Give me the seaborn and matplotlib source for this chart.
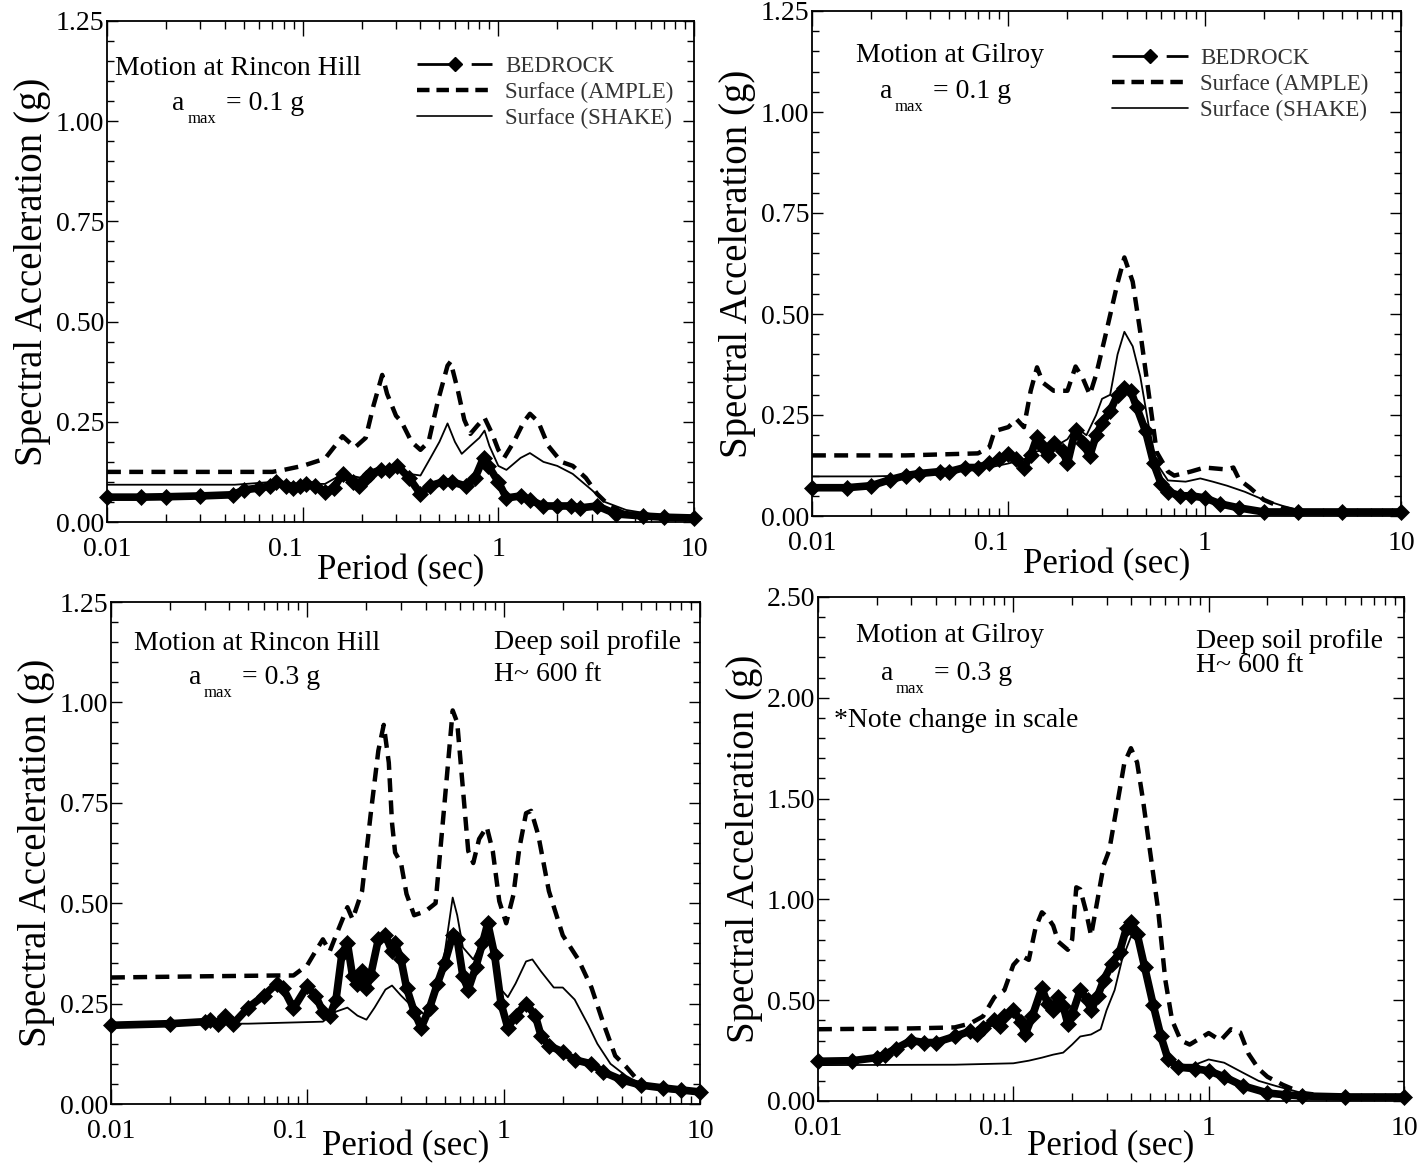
import numpy as np
import seaborn as sns
import matplotlib
matplotlib.use('Agg')
import matplotlib.pyplot as plt
from matplotlib.lines import Line2D
from matplotlib.ticker import LogLocator, MultipleLocator, NullFormatter, FormatStrFormatter

# ---- Rincon Hill, amax = 0.1 g
rh1_bed_x = [0.01, 0.015, 0.02, 0.03, 0.044, 0.05, 0.06, 0.068, 0.073, 0.082, 0.089, 0.097, 0.104, 0.116, 0.13, 0.144, 0.16, 0.18, 0.194, 0.21, 0.22, 0.25, 0.275, 0.305, 0.35, 0.40, 0.445, 0.52, 0.58, 0.68, 0.76, 0.84, 0.89, 1.0, 1.1, 1.3, 1.45, 1.7, 2.0, 2.35, 2.6, 3.2, 4.0, 5.5, 7.0, 10]
rh1_bed_y = [0.062, 0.062, 0.063, 0.065, 0.068, 0.08, 0.085, 0.09, 0.10, 0.09, 0.085, 0.09, 0.095, 0.09, 0.075, 0.085, 0.12, 0.10, 0.09, 0.11, 0.12, 0.13, 0.13, 0.14, 0.11, 0.07, 0.09, 0.10, 0.10, 0.09, 0.11, 0.16, 0.14, 0.10, 0.06, 0.065, 0.055, 0.04, 0.04, 0.04, 0.035, 0.04, 0.02, 0.015, 0.012, 0.01]
rh1_amp_x = [0.01, 0.03, 0.07, 0.08, 0.1, 0.13, 0.16, 0.185, 0.21, 0.23, 0.255, 0.27, 0.30, 0.32, 0.36, 0.40, 0.44, 0.49, 0.55, 0.57, 0.62, 0.67, 0.72, 0.78, 0.85, 0.93, 1.0, 1.07, 1.2, 1.35, 1.45, 1.6, 1.8, 2.1, 2.4, 2.8, 3.2, 3.7, 4.5, 6.0, 10]
rh1_amp_y = [0.125, 0.125, 0.125, 0.13, 0.14, 0.158, 0.214, 0.186, 0.21, 0.29, 0.367, 0.32, 0.265, 0.25, 0.20, 0.18, 0.20, 0.30, 0.39, 0.40, 0.33, 0.255, 0.22, 0.24, 0.26, 0.22, 0.18, 0.16, 0.20, 0.25, 0.27, 0.25, 0.19, 0.15, 0.14, 0.11, 0.07, 0.04, 0.02, 0.015, 0.01]
rh1_shk_x = [0.01, 0.045, 0.07, 0.1, 0.13, 0.16, 0.2, 0.25, 0.3, 0.35, 0.40, 0.45, 0.5, 0.55, 0.6, 0.65, 0.72, 0.8, 0.85, 0.9, 1.0, 1.1, 1.3, 1.45, 1.7, 2.0, 2.4, 3.0, 3.5, 4.5, 6.0, 10]
rh1_shk_y = [0.093, 0.093, 0.10, 0.095, 0.095, 0.12, 0.11, 0.135, 0.14, 0.12, 0.116, 0.16, 0.20, 0.246, 0.20, 0.17, 0.19, 0.21, 0.228, 0.19, 0.14, 0.13, 0.16, 0.172, 0.15, 0.14, 0.12, 0.08, 0.05, 0.03, 0.02, 0.01]

# ---- Gilroy, amax = 0.1 g
gi1_bed_x = [0.01, 0.015, 0.02, 0.025, 0.03, 0.035, 0.045, 0.05, 0.06, 0.07, 0.08, 0.09, 0.1, 0.11, 0.12, 0.13, 0.14, 0.15, 0.16, 0.17, 0.19, 0.20, 0.22, 0.24, 0.26, 0.28, 0.30, 0.33, 0.36, 0.39, 0.42, 0.45, 0.5, 0.55, 0.6, 0.65, 0.75, 0.85, 1.0, 1.2, 1.5, 2.0, 3.0, 5.0, 10]
gi1_bed_y = [0.07, 0.07, 0.075, 0.09, 0.10, 0.105, 0.11, 0.11, 0.12, 0.12, 0.13, 0.14, 0.153, 0.14, 0.12, 0.15, 0.195, 0.17, 0.15, 0.18, 0.16, 0.13, 0.214, 0.18, 0.149, 0.20, 0.23, 0.26, 0.30, 0.317, 0.31, 0.27, 0.21, 0.13, 0.08, 0.06, 0.05, 0.05, 0.045, 0.03, 0.02, 0.01, 0.01, 0.01, 0.01]
gi1_amp_x = [0.01, 0.03, 0.07, 0.08, 0.085, 0.1, 0.11, 0.12, 0.13, 0.14, 0.15, 0.17, 0.2, 0.22, 0.24, 0.26, 0.28, 0.31, 0.36, 0.39, 0.43, 0.47, 0.52, 0.57, 0.65, 0.7, 0.85, 1.0, 1.3, 1.4, 1.5, 1.7, 2.0, 2.5, 3.0, 10]
gi1_amp_y = [0.15, 0.15, 0.155, 0.17, 0.21, 0.22, 0.24, 0.22, 0.31, 0.368, 0.33, 0.31, 0.31, 0.37, 0.34, 0.30, 0.35, 0.44, 0.577, 0.64, 0.58, 0.455, 0.30, 0.158, 0.11, 0.10, 0.11, 0.12, 0.115, 0.12, 0.09, 0.07, 0.04, 0.02, 0.012, 0.01]
gi1_shk_x = [0.01, 0.02, 0.03, 0.05, 0.08, 0.1, 0.12, 0.14, 0.17, 0.2, 0.22, 0.25, 0.28, 0.3, 0.33, 0.36, 0.39, 0.43, 0.47, 0.52, 0.57, 0.65, 0.8, 0.95, 1.1, 1.3, 1.6, 2.0, 2.5, 3.0, 10]
gi1_shk_y = [0.098, 0.098, 0.10, 0.11, 0.12, 0.13, 0.14, 0.16, 0.17, 0.19, 0.22, 0.20, 0.25, 0.29, 0.30, 0.40, 0.456, 0.42, 0.345, 0.22, 0.13, 0.088, 0.085, 0.093, 0.085, 0.075, 0.06, 0.04, 0.025, 0.015, 0.01]

# ---- Rincon Hill, amax = 0.3 g
rh3_bed_x = [0.01, 0.02, 0.03, 0.032, 0.035, 0.038, 0.042, 0.05, 0.06, 0.07, 0.075, 0.085, 0.1, 0.11, 0.12, 0.13, 0.14, 0.15, 0.16, 0.17, 0.18, 0.19, 0.20, 0.21, 0.23, 0.25, 0.27, 0.28, 0.30, 0.32, 0.35, 0.38, 0.42, 0.46, 0.5, 0.55, 0.58, 0.62, 0.66, 0.72, 0.78, 0.83, 0.9, 0.97, 1.05, 1.15, 1.3, 1.45, 1.55, 1.7, 2.0, 2.3, 2.8, 3.2, 4.0, 5.0, 6.5, 8.0, 10]
rh3_bed_y = [0.196, 0.20, 0.205, 0.21, 0.20, 0.22, 0.20, 0.24, 0.27, 0.30, 0.29, 0.238, 0.294, 0.27, 0.23, 0.22, 0.26, 0.374, 0.40, 0.318, 0.30, 0.33, 0.29, 0.32, 0.41, 0.42, 0.38, 0.40, 0.36, 0.29, 0.23, 0.19, 0.24, 0.30, 0.35, 0.42, 0.41, 0.318, 0.285, 0.34, 0.40, 0.45, 0.37, 0.25, 0.19, 0.22, 0.25, 0.22, 0.17, 0.145, 0.13, 0.11, 0.10, 0.08, 0.06, 0.047, 0.04, 0.035, 0.03]
rh3_amp_x = [0.01, 0.03, 0.07, 0.085, 0.1, 0.11, 0.12, 0.13, 0.14, 0.16, 0.17, 0.19, 0.21, 0.23, 0.245, 0.26, 0.27, 0.28, 0.30, 0.32, 0.35, 0.40, 0.45, 0.5, 0.55, 0.58, 0.62, 0.66, 0.70, 0.75, 0.82, 0.88, 0.95, 1.03, 1.12, 1.2, 1.3, 1.38, 1.5, 1.7, 2.0, 2.4, 2.8, 3.2, 3.7, 4.2, 5.0, 7.0, 10]
rh3_amp_y = [0.315, 0.318, 0.32, 0.32, 0.346, 0.38, 0.41, 0.38, 0.42, 0.49, 0.46, 0.53, 0.72, 0.88, 0.944, 0.85, 0.70, 0.626, 0.60, 0.523, 0.47, 0.48, 0.50, 0.75, 0.98, 0.95, 0.785, 0.63, 0.60, 0.66, 0.69, 0.63, 0.505, 0.45, 0.52, 0.635, 0.724, 0.73, 0.67, 0.53, 0.42, 0.36, 0.29, 0.205, 0.12, 0.093, 0.05, 0.035, 0.03]
rh3_shk_x = [0.01, 0.05, 0.12, 0.14, 0.16, 0.18, 0.2, 0.22, 0.25, 0.27, 0.3, 0.33, 0.36, 0.4, 0.45, 0.5, 0.55, 0.58, 0.62, 0.7, 0.75, 0.82, 0.88, 0.95, 1.05, 1.15, 1.3, 1.4, 1.55, 1.8, 2.0, 2.3, 2.7, 3.0, 3.5, 4.2, 5.0, 7.0, 10]
rh3_shk_y = [0.20, 0.20, 0.205, 0.23, 0.24, 0.22, 0.21, 0.24, 0.285, 0.295, 0.27, 0.25, 0.24, 0.22, 0.29, 0.374, 0.514, 0.47, 0.39, 0.36, 0.39, 0.43, 0.38, 0.29, 0.266, 0.30, 0.355, 0.36, 0.33, 0.29, 0.29, 0.26, 0.196, 0.15, 0.10, 0.07, 0.05, 0.035, 0.03]

# ---- Gilroy, amax = 0.3 g
gi3_bed_x = [0.01, 0.015, 0.02, 0.022, 0.025, 0.03, 0.035, 0.04, 0.05, 0.06, 0.065, 0.07, 0.08, 0.085, 0.09, 0.1, 0.11, 0.115, 0.125, 0.14, 0.15, 0.16, 0.17, 0.18, 0.19, 0.2, 0.22, 0.24, 0.25, 0.27, 0.29, 0.32, 0.35, 0.38, 0.4, 0.43, 0.47, 0.52, 0.57, 0.62, 0.7, 0.85, 1.0, 1.2, 1.5, 2.0, 2.5, 3.0, 5.0, 10]
gi3_bed_y = [0.197, 0.20, 0.215, 0.23, 0.26, 0.30, 0.29, 0.29, 0.32, 0.346, 0.33, 0.36, 0.40, 0.37, 0.42, 0.45, 0.39, 0.33, 0.42, 0.56, 0.48, 0.45, 0.515, 0.47, 0.384, 0.43, 0.55, 0.50, 0.45, 0.52, 0.60, 0.68, 0.74, 0.86, 0.89, 0.83, 0.665, 0.477, 0.32, 0.206, 0.168, 0.16, 0.15, 0.12, 0.075, 0.04, 0.03, 0.025, 0.02, 0.02]
gi3_amp_x = [0.01, 0.03, 0.05, 0.06, 0.07, 0.08, 0.09, 0.1, 0.11, 0.12, 0.13, 0.14, 0.15, 0.16, 0.17, 0.19, 0.2, 0.21, 0.22, 0.235, 0.25, 0.27, 0.29, 0.31, 0.34, 0.37, 0.4, 0.43, 0.46, 0.5, 0.55, 0.6, 0.65, 0.72, 0.8, 0.9, 1.0, 1.15, 1.3, 1.45, 1.6, 1.8, 2.0, 2.4, 3.0, 4.0, 10]
gi3_amp_y = [0.356, 0.36, 0.365, 0.384, 0.42, 0.515, 0.55, 0.675, 0.72, 0.70, 0.86, 0.936, 0.91, 0.87, 0.79, 0.75, 0.80, 1.06, 1.05, 0.945, 0.82, 1.00, 1.17, 1.245, 1.47, 1.676, 1.75, 1.68, 1.50, 1.245, 0.955, 0.60, 0.40, 0.30, 0.28, 0.31, 0.337, 0.30, 0.356, 0.34, 0.234, 0.16, 0.12, 0.08, 0.04, 0.025, 0.02]
gi3_shk_x = [0.01, 0.05, 0.1, 0.12, 0.14, 0.16, 0.18, 0.2, 0.22, 0.25, 0.28, 0.3, 0.33, 0.36, 0.4, 0.43, 0.47, 0.52, 0.57, 0.62, 0.7, 0.85, 1.0, 1.2, 1.5, 1.8, 2.2, 3.0, 4.0, 10]
gi3_shk_y = [0.178, 0.18, 0.187, 0.20, 0.215, 0.23, 0.24, 0.28, 0.32, 0.33, 0.356, 0.45, 0.55, 0.70, 0.815, 0.80, 0.66, 0.47, 0.31, 0.21, 0.18, 0.18, 0.206, 0.19, 0.14, 0.10, 0.075, 0.04, 0.03, 0.02]

x_ticks = [0.01, 0.1, 1, 10]
x_ticklabels = ['0.01', '0.1', '1', '10']
legend_labels = ['BEDROCK', 'Surface (AMPLE)', 'Surface (SHAKE)']

sns.set_theme(style='ticks')
plt.rcParams['font.family'] = ['Liberation Serif', 'DejaVu Serif']
plt.rcParams['lines.scale_dashes'] = False
plt.rcParams['text.color'] = 'black'
plt.rcParams['axes.labelcolor'] = 'black'
plt.rcParams['xtick.color'] = 'black'
plt.rcParams['ytick.color'] = 'black'

AMPLE_DASH = (0, (10, 6))


def draw_panel(ax, bed_x, bed_y, amp_x, amp_y, shk_x, shk_y, ymax, ystep, xpad=-6):
    sns.lineplot(x=shk_x, y=shk_y, ax=ax, color='black', linewidth=1.3,
                 estimator=None, sort=False)
    sns.lineplot(x=amp_x, y=amp_y, ax=ax, color='black', linewidth=3.2,
                 linestyle=AMPLE_DASH, estimator=None, sort=False)
    sns.lineplot(x=bed_x, y=bed_y, ax=ax, color='black', linewidth=5.5,
                 marker='D', markersize=8, markeredgecolor='black',
                 markeredgewidth=0.5, estimator=None, sort=False, clip_on=False)
    ax.set_xscale('log')
    ax.set_xlim(0.01, 10)
    ax.set_ylim(0, ymax)
    ax.set_xticks(x_ticks)
    ax.set_xticklabels(x_ticklabels)
    ax.xaxis.set_minor_locator(LogLocator(base=10, subs=np.arange(2, 10)))
    ax.xaxis.set_minor_formatter(NullFormatter())
    ax.yaxis.set_major_locator(MultipleLocator(ystep))
    ax.yaxis.set_minor_locator(MultipleLocator(ystep / 5))
    ax.yaxis.set_major_formatter(FormatStrFormatter('%.2f'))
    ax.tick_params(which='both', direction='in', top=True, right=True)
    ax.tick_params(axis='x', which='major', length=11, width=1, labelsize=20, pad=11)
    ax.tick_params(axis='x', which='minor', length=6, width=1)
    ax.tick_params(axis='y', which='major', length=8, width=1, labelsize=20, pad=2)
    ax.tick_params(axis='y', which='minor', length=5, width=1)
    ax.get_xticklabels()[1].set_horizontalalignment('right')
    ax.set_xlabel('Period (sec)', fontsize=25, labelpad=xpad)
    ax.set_ylabel('Spectral Acceleration (g)', fontsize=28, labelpad=3)
    for s in ax.spines.values():
        s.set_linewidth(1.3)
        s.set_color('black')


def amax_label(ax, x, y, value):
    ax.text(x, y, 'a', fontsize=20, transform=ax.transAxes, va='baseline')
    ax.text(x + 0.026, y - 0.026, 'max', fontsize=12, transform=ax.transAxes, va='baseline')
    ax.text(x + 0.091, y, '= ' + value, fontsize=20, transform=ax.transAxes, va='baseline')


def add_legend(ax, x, y):
    handles = [Line2D([], [], color='black', lw=2, linestyle=(0, (27, 12, 20, 30)),
                      marker='D', markersize=7),
               Line2D([], [], color='black', lw=3.2, linestyle=(0, (9, 5))),
               Line2D([], [], color='black', lw=1.2)]
    ax.legend(handles, legend_labels, loc='upper right', bbox_to_anchor=(x, y),
              frameon=False, fontsize=16.5, handlelength=3.3, handletextpad=0.55,
              labelspacing=0.22, borderpad=0, borderaxespad=0, numpoints=1,
              labelcolor='#333333')


fig = plt.figure(figsize=(14.26, 11.69), dpi=100)
ax1 = fig.add_axes([107 / 1426, 1 - 522 / 1169, 587 / 1426, 501 / 1169])
ax2 = fig.add_axes([812 / 1426, 1 - 516 / 1169, 589 / 1426, 505 / 1169])
ax3 = fig.add_axes([111 / 1426, 1 - 1104 / 1169, 589 / 1426, 502 / 1169])
ax4 = fig.add_axes([818 / 1426, 1 - 1101 / 1169, 586 / 1426, 504 / 1169])

draw_panel(ax1, rh1_bed_x, rh1_bed_y, rh1_amp_x, rh1_amp_y, rh1_shk_x, rh1_shk_y, 1.25, 0.25)
draw_panel(ax2, gi1_bed_x, gi1_bed_y, gi1_amp_x, gi1_amp_y, gi1_shk_x, gi1_shk_y, 1.25, 0.25)
draw_panel(ax3, rh3_bed_x, rh3_bed_y, rh3_amp_x, rh3_amp_y, rh3_shk_x, rh3_shk_y, 1.25, 0.25, xpad=-10)
draw_panel(ax4, gi3_bed_x, gi3_bed_y, gi3_amp_x, gi3_amp_y, gi3_shk_x, gi3_shk_y, 2.5, 0.5, xpad=-8)

# panel texts
ax1.text(0.014, 0.892, 'Motion at Rincon Hill', fontsize=20, transform=ax1.transAxes, va='baseline')
amax_label(ax1, 0.111, 0.822, '0.1 g')
add_legend(ax1, 0.965, 0.93)

ax2.text(0.075, 0.900, 'Motion at Gilroy', fontsize=20, transform=ax2.transAxes, va='baseline')
amax_label(ax2, 0.115, 0.827, '0.1 g')
add_legend(ax2, 0.945, 0.927)

ax3.text(0.039, 0.905, 'Motion at Rincon Hill', fontsize=20, transform=ax3.transAxes, va='baseline')
amax_label(ax3, 0.132, 0.837, '0.3 g')
ax3.text(0.65, 0.907, 'Deep soil profile', fontsize=20, transform=ax3.transAxes, va='baseline')
ax3.text(0.65, 0.843, 'H~ 600 ft', fontsize=20, transform=ax3.transAxes, va='baseline')

ax4.text(0.065, 0.911, 'Motion at Gilroy', fontsize=20, transform=ax4.transAxes, va='baseline')
amax_label(ax4, 0.107, 0.835, '0.3 g')
ax4.text(0.027, 0.742, '*Note change in scale', fontsize=20, transform=ax4.transAxes, va='baseline')
ax4.text(0.645, 0.899, 'Deep soil profile', fontsize=20, transform=ax4.transAxes, va='baseline')
ax4.text(0.645, 0.851, 'H~ 600 ft', fontsize=20, transform=ax4.transAxes, va='baseline')

fig.savefig('out.png', dpi=100)
